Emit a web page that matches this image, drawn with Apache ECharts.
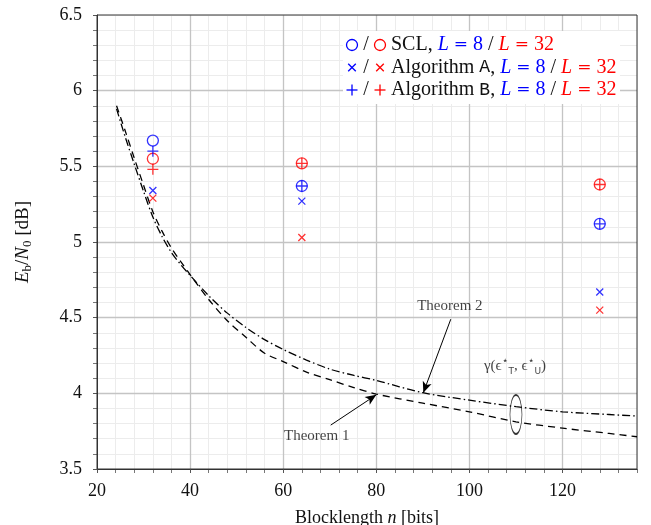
<!DOCTYPE html>
<html>
<head>
<meta charset="utf-8">
<script src="https://cdn.jsdelivr.net/npm/echarts@6/dist/echarts.min.js"></script>
<style>html,body{margin:0;padding:0;background:#fff}#c{width:651px;height:525px}</style>
</head>
<body>
<div id="c"></div>
<script>
// ---- data ----
const blockLengths = [32, 64, 128];
const sclL8   = [5.67, 5.37, 5.12];
const sclL32  = [5.55, 5.52, 5.38];
const algAL8  = [5.34, 5.27, 4.67];
const algAL32 = [5.29, 5.03, 4.55];
const algBL8  = [5.60, 5.37, 5.12];
const algBL32 = [5.48, 5.52, 5.38];

const thmN    = [24.2, 26, 28, 30, 32, 34, 36, 38, 40, 44, 48, 52, 56, 60, 65, 70, 75, 80, 90, 100, 110, 120, 130, 136];
const thm1Val = [5.90, 5.74, 5.555, 5.375, 5.20, 5.07, 4.96, 4.87, 4.785, 4.62, 4.48, 4.37, 4.265, 4.21, 4.14, 4.09, 4.04, 3.995, 3.935, 3.878, 3.812, 3.77, 3.735, 3.713];
const thm2Val = [5.88, 5.70, 5.515, 5.335, 5.165, 5.035, 4.93, 4.85, 4.78, 4.645, 4.53, 4.435, 4.355, 4.29, 4.22, 4.16, 4.12, 4.085, 4.004, 3.955, 3.912, 3.878, 3.86, 3.85];

const xMin = 20, xMax = 136, xMajor = 20, xMinor = 4;
const yMin = 3.5, yMax = 6.5, yMajor = 0.5, yMinor = 0.1;

// annotation anchors (data units)
const thm1Arrow = [[70.2, 3.79], [80, 3.99]];
const thm2Arrow = [[96, 4.49], [90.1, 4.004]];
const thm1Text = [67.2, 3.72];
const thm2Text = [95.8, 4.575];
const gammaText = [109.8, 4.18];
const ellipseAt = [110, 3.86];

// legend rows
const legendRows = [
  { sym: 'circle', label: 'SCL, ', mono: '' },
  { sym: 'cross',  label: 'Algorithm ', mono: 'A' },
  { sym: 'plus',   label: 'Algorithm ', mono: 'B' }
];

const BLUE = '#0000ff', RED = '#ff0000';
const FONT = 'Liberation Serif';
const zip = (xs, ys) => xs.map((x, i) => [x, ys[i]]);
const CROSS = 'path://M0,0L10,10M10,0L0,10';
const PLUS = 'path://M5,0L5,10M0,5L10,5';

function marker(name, ys, sym, size, color, z) {
  return {
    name, type: 'scatter', data: zip(blockLengths, ys), symbol: sym, symbolSize: size, z: z,
    itemStyle: { color: 'none', borderColor: color, borderWidth: 1.3 },
    silent: true
  };
}

function legendSymbol(kind, cx, cy, color) {
  const st = { fill: 'none', stroke: color, lineWidth: 1.3 };
  if (kind === 'circle') return [{ type: 'circle', z: 11, shape: { cx, cy, r: 5.5 }, style: st }];
  if (kind === 'cross') return [
    { type: 'line', z: 11, shape: { x1: cx - 3.8, y1: cy - 3.8, x2: cx + 3.8, y2: cy + 3.8 }, style: st },
    { type: 'line', z: 11, shape: { x1: cx + 3.8, y1: cy - 3.8, x2: cx - 3.8, y2: cy + 3.8 }, style: st }
  ];
  return [
    { type: 'line', z: 11, shape: { x1: cx - 5.5, y1: cy, x2: cx + 5.5, y2: cy }, style: st },
    { type: 'line', z: 11, shape: { x1: cx, y1: cy - 5.5, x2: cx, y2: cy + 5.5 }, style: st }
  ];
}

const legendRich = {
  k:  { fontFamily: FONT, fontSize: 20, fill: '#111' },
  b:  { fontFamily: FONT, fontSize: 20, fill: BLUE },
  r:  { fontFamily: FONT, fontSize: 20, fill: RED },
  be: { fontFamily: 'DejaVu Serif', fontSize: 17, fill: BLUE },
  re: { fontFamily: 'DejaVu Serif', fontSize: 17, fill: RED },
  bi: { fontFamily: FONT, fontSize: 20, fill: BLUE, fontStyle: 'italic' },
  ri: { fontFamily: FONT, fontSize: 20, fill: RED, fontStyle: 'italic' },
  m:  { fontFamily: 'Liberation Mono', fontSize: 18, fill: '#111' }
};
const tailL = '{bi|L}{b| }{be|=}{b| 8}{k| / }{ri|L}{r| }{re|=}{r| 32}';

const legendGraphics = [{ type: 'rect', left: 343, top: 31, shape: { width: 277, height: 73 }, style: { fill: '#fff' }, z: 10 }];
legendRows.forEach((row, i) => {
  const cy = 45 + i * 22.5;
  legendGraphics.push(...legendSymbol(row.sym, 352, cy, BLUE));
  legendGraphics.push(...legendSymbol(row.sym, 380, cy, RED));
  legendGraphics.push({ type: 'text', z: 11, x: 366, y: cy, style: { text: '/', fontFamily: FONT, fontSize: 20, fill: '#111', align: 'center', verticalAlign: 'middle' } });
  legendGraphics.push({
    type: 'text', z: 11, x: 391, y: cy,
    style: {
      text: '{k|' + row.label + '}' + (row.mono ? '{m|' + row.mono + '}{k|, }' : '') + tailL,
      rich: legendRich, verticalAlign: 'middle', align: 'left'
    }
  });
});

const chart = echarts.init(document.getElementById('c'), null, { renderer: 'canvas' });

const option = {
  animation: false,
  backgroundColor: '#fff',
  textStyle: { fontFamily: FONT },
  grid: { left: 97, right: 14, top: 15, bottom: 56, show: true, borderColor: '#333', borderWidth: 1, backgroundColor: 'transparent', z: 3, containLabel: false, outerBoundsMode: 'none' },
  xAxis: [
    {
      type: 'value', min: xMin, max: xMax, interval: xMajor, position: 'bottom', z: 2,
      name: '{n|Blocklength }{i|n}{n| [bits]}', nameLocation: 'middle', nameGap: 40,
      nameTextStyle: { rich: { n: { fontFamily: FONT, fontSize: 18, color: '#111' }, i: { fontFamily: FONT, fontStyle: 'italic', fontSize: 18, color: '#111' } } },
      axisLine: { show: true, lineStyle: { color: '#333', width: 1 } },
      axisTick: { show: true, length: 4, lineStyle: { color: '#555' } },
      axisLabel: { color: '#111', fontSize: 18, fontFamily: FONT, margin: 13, showMaxLabel: false },
      splitLine: { show: true, showMinLine: false, showMaxLine: false, lineStyle: { color: '#c4c4c4', width: 1.3 } }
    },
    {
      type: 'value', min: xMin, max: xMax, interval: xMinor, position: 'bottom', z: 1,
      axisLine: { show: false },
      axisTick: { show: true, length: 4, lineStyle: { color: '#777' } },
      axisLabel: { show: false },
      splitLine: { show: true, lineStyle: { color: '#ececec', width: 1 } }
    }
  ],
  yAxis: [
    {
      type: 'value', min: yMin, max: yMax, interval: yMajor, position: 'left', z: 2,
      name: '{i|E}{s|b}{n|/}{i|N}{s|0}{n| [dB]}', nameLocation: 'middle', nameGap: 63,
      nameTextStyle: { rich: {
        n: { fontFamily: FONT, fontSize: 19, color: '#111', lineHeight: 22 },
        i: { fontFamily: FONT, fontStyle: 'italic', fontSize: 19, color: '#111', lineHeight: 22 },
        s: { fontFamily: FONT, fontSize: 13, color: '#111', lineHeight: 12, verticalAlign: 'bottom' }
      } },
      axisLine: { show: true, lineStyle: { color: '#333', width: 1 } },
      axisTick: { show: true, length: 4, lineStyle: { color: '#555' } },
      axisLabel: { color: '#111', fontSize: 18, fontFamily: FONT, margin: 15 },
      splitLine: { show: true, showMinLine: false, showMaxLine: false, lineStyle: { color: '#c4c4c4', width: 1.3 } }
    },
    {
      type: 'value', min: yMin, max: yMax, interval: yMinor, position: 'left', z: 1,
      axisLine: { show: false },
      axisTick: { show: true, length: 4, lineStyle: { color: '#777' } },
      axisLabel: { show: false },
      splitLine: { show: true, lineStyle: { color: '#ececec', width: 1 } }
    }
  ],
  series: [
    {
      name: 'Theorem 1', type: 'line', data: zip(thmN, thm1Val), showSymbol: false, smooth: 0.3, z: 4,
      lineStyle: { color: '#000', width: 1.3, type: [7, 5] },
      markLine: {
        silent: true, symbol: ['none', 'arrow'], symbolSize: [7, 11],
        lineStyle: { color: '#000', type: 'solid', width: 1 }, label: { show: false },
        data: [[{ coord: thm1Arrow[0] }, { coord: thm1Arrow[1] }]]
      }
    },
    {
      name: 'Theorem 2', type: 'line', data: zip(thmN, thm2Val), showSymbol: false, smooth: 0.3, z: 4,
      lineStyle: { color: '#000', width: 1.3, type: [8, 3, 1.5, 3] },
      markLine: {
        silent: true, symbol: ['none', 'arrow'], symbolSize: [7, 11],
        lineStyle: { color: '#000', type: 'solid', width: 1 }, label: { show: false },
        data: [[{ coord: thm2Arrow[0] }, { coord: thm2Arrow[1] }]]
      }
    },
    {
      name: 'ellipse', type: 'scatter', data: [ellipseAt], symbol: 'circle', symbolSize: [12, 39], z: 5,
      itemStyle: { color: 'none', borderColor: '#000', borderWidth: 1.2 }, silent: true
    },
    {
      name: 'labels', type: 'scatter', symbolSize: 0, z: 6, silent: true,
      data: [
        { value: thm1Text, label: { formatter: 'Theorem 1' } },
        { value: thm2Text, label: { formatter: 'Theorem 2' } },
        { value: gammaText, label: { formatter: '{n|γ(ϵ}{p|⋆}{s|T}{n|, ϵ}{p|⋆}{s|U}{n|)}' } }
      ],
      label: {
        show: true, position: 'inside', color: '#111', fontFamily: FONT, fontSize: 15,
        rich: {
          n: { fontFamily: FONT, fontSize: 15, color: '#111', lineHeight: 20 },
          p: { fontFamily: 'DejaVu Sans', fontSize: 11, color: '#111', lineHeight: 10, verticalAlign: 'top' },
          s: { fontFamily: 'DejaVu Sans', fontSize: 9, color: '#111', lineHeight: 9, verticalAlign: 'bottom' }
        }
      }
    },
    marker('SCL L=8', sclL8, 'circle', 11, BLUE, 7),
    marker('SCL L=32', sclL32, 'circle', 11, RED, 7),
    marker('Alg A L=8', algAL8, CROSS, 7, BLUE, 8),
    marker('Alg A L=32', algAL32, CROSS, 7, RED, 8),
    marker('Alg B L=8', algBL8, PLUS, 11, BLUE, 8),
    marker('Alg B L=32', algBL32, PLUS, 11, RED, 8)
  ],
  graphic: legendGraphics
};
chart.setOption(option);
</script>
</body>
</html>
